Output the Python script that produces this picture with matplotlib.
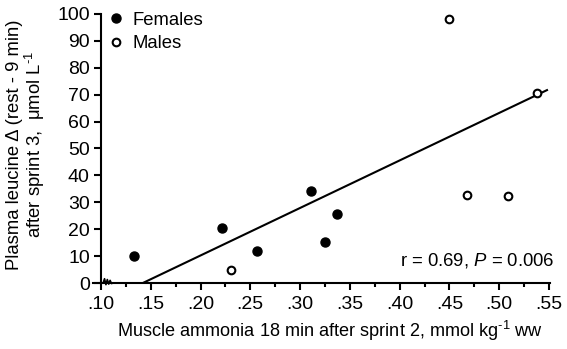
import matplotlib.pyplot as plt
import matplotlib

matplotlib.rcParams['font.family'] = ['Liberation Sans', 'DejaVu Sans']
matplotlib.rcParams['mathtext.fontset'] = 'custom'
matplotlib.rcParams['mathtext.rm'] = 'Liberation Sans'
matplotlib.rcParams['mathtext.it'] = 'Liberation Sans:italic'

# data
female_x = [0.133, 0.222, 0.257, 0.311, 0.325, 0.337]
female_y = [10.0, 20.3, 11.9, 34.2, 15.4, 25.7]
male_x = [0.231, 0.450, 0.468, 0.509, 0.538]
male_y = [4.8, 98.1, 32.7, 32.5, 70.5]
fit_x = [0.142, 0.548]
fit_y = [0.0, 71.7]

xticks = [0.10, 0.15, 0.20, 0.25, 0.30, 0.35, 0.40, 0.45, 0.50, 0.55]
xticklabels = ['.10', '.15', '.20', '.25', '.30', '.35', '.40', '.45', '.50', '.55']
yticks = [0, 10, 20, 30, 40, 50, 60, 70, 80, 90, 100]

fs = 13.3

fig = plt.figure(figsize=(5.67, 3.49), dpi=100)
ax = fig.add_axes([0.164, 0.189, 0.806, 0.771])

ax.plot(fit_x, fit_y, color='black', linewidth=1.5, zorder=2)
ax.plot(female_x, female_y, 'o', color='black', markersize=6.5, label='Females', zorder=3)
ax.plot(male_x, male_y, 'o', markerfacecolor='white', markeredgecolor='black',
        markeredgewidth=1.5, markersize=5.5, label='Males', zorder=3)

ax.set_xlim(0.092, 0.551)
ax.set_ylim(0, 100)
ax.spines['top'].set_visible(False)
ax.spines['right'].set_visible(False)
ax.spines['left'].set_position(('data', 0.10))
ax.spines['left'].set_linewidth(1.5)
ax.spines['bottom'].set_linewidth(1.5)

ax.set_xticks(xticks)
ax.set_xticklabels(xticklabels)
ax.set_xticks([t + 0.025 for t in xticks[:-1]], minor=True)
ax.set_yticks(yticks)
ax.tick_params(axis='both', labelsize=14, width=1.5, length=5, direction='out')
ax.tick_params(axis='x', which='minor', width=1.5, length=3)
ax.tick_params(axis='x', pad=4)
ax.tick_params(axis='y', pad=3)

ax.set_xlabel('Muscle ammonia 18 min after sprint 2, mmol kg$^{\\text{-}1}$ ww', fontsize=13.1)
ax.xaxis.set_label_coords(0.518, -0.135)
ax.set_ylabel('Plasma leucine \u0394 (rest - 9 min)\nafter sprint 3,  \u03bcmol L$^{\\text{-}1}$',
              fontsize=fs, linespacing=1.0)
ax.yaxis.set_label_coords(-0.10, 0.515)

# axis break squiggle near the origin
sq_x = [0.1022, 0.1036, 0.1050, 0.1064, 0.1078, 0.1092, 0.1106, 0.1120]
sq_y = [0.0, 1.6, -0.6, 1.3, -0.4, 1.0, -0.2, 0.0]
ax.plot(sq_x, sq_y, color='black', linewidth=1.2, clip_on=False)

ax.text(0.556, 8.3, 'r = 0.69, $P$ = 0.006', fontsize=fs, ha='right', va='center')

leg = ax.legend(loc='upper left', bbox_to_anchor=(0.014, 1.035), frameon=False,
                fontsize=fs, handletextpad=0.4, labelspacing=0.35,
                handlelength=1.0, borderaxespad=0)

fig.savefig('out.png', dpi=100)
